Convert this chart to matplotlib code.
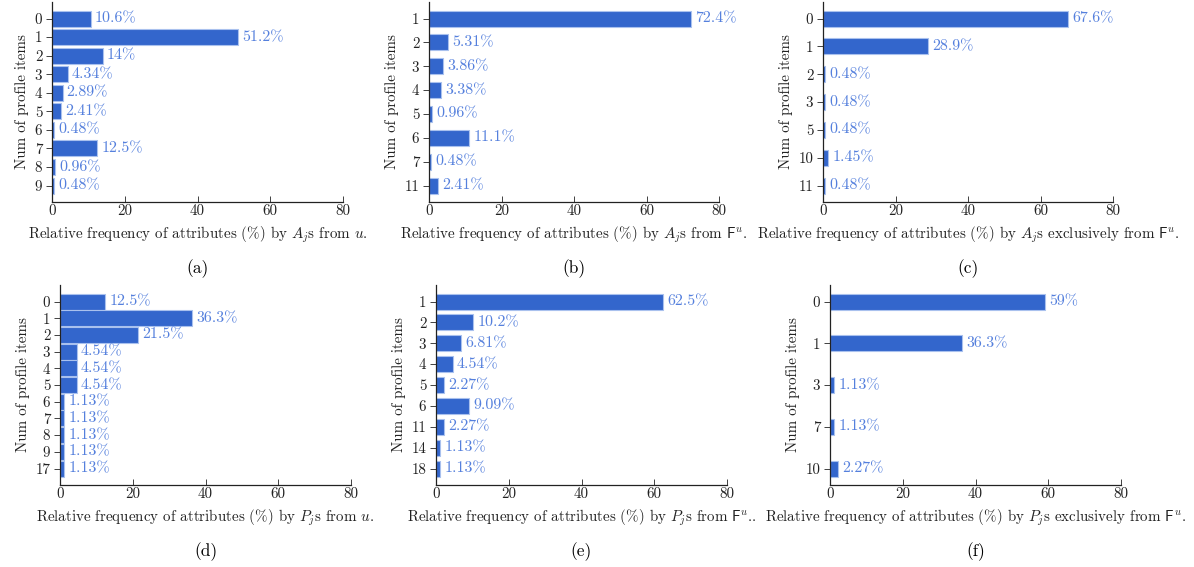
import numpy as np
import matplotlib
matplotlib.use("Agg")
import matplotlib.pyplot as plt

plt.rcParams['font.family'] = 'serif'
plt.rcParams['font.serif'] = ['cmr10', 'DejaVu Serif']
plt.rcParams['mathtext.fontset'] = 'cm'
plt.rcParams['axes.formatter.use_mathtext'] = True

# panel data: category labels (top to bottom) and relative frequency (%)
a_cats = ['0', '1', '2', '3', '4', '5', '6', '7', '8', '9']
a_vals = [10.6, 51.2, 14, 4.34, 2.89, 2.41, 0.48, 12.5, 0.96, 0.48]

b_cats = ['1', '2', '3', '4', '5', '6', '7', '11']
b_vals = [72.4, 5.31, 3.86, 3.38, 0.96, 11.1, 0.48, 2.41]

c_cats = ['0', '1', '2', '3', '5', '10', '11']
c_vals = [67.6, 28.9, 0.48, 0.48, 0.48, 1.45, 0.48]

d_cats = ['0', '1', '2', '3', '4', '5', '6', '7', '8', '9', '17']
d_vals = [12.5, 36.3, 21.5, 4.54, 4.54, 4.54, 1.13, 1.13, 1.13, 1.13, 1.13]

e_cats = ['1', '2', '3', '4', '5', '6', '11', '14', '18']
e_vals = [62.5, 10.2, 6.81, 4.54, 2.27, 9.09, 2.27, 1.13, 1.13]

f_cats = ['0', '1', '3', '7', '10']
f_vals = [59, 36.3, 1.13, 1.13, 2.27]

xlabels = [
    r'Relative frequency of attributes (%) by $A_j$s from $u$.',
    r'Relative frequency of attributes (%) by $A_j$s from $\mathsf{F}^u$.',
    r'Relative frequency of attributes (%) by $A_j$s exclusively from $\mathsf{F}^u$.',
    r'Relative frequency of attributes (%) by $P_j$s from $u$.',
    r'Relative frequency of attributes (%) by $P_j$s from $\mathsf{F}^u$..',
    r'Relative frequency of attributes (%) by $P_j$s exclusively from $\mathsf{F}^u$.',
]
captions = ['(a)', '(b)', '(c)', '(d)', '(e)', '(f)']
panels = [(a_cats, a_vals), (b_cats, b_vals), (c_cats, c_vals),
          (d_cats, d_vals), (e_cats, e_vals), (f_cats, f_vals)]

W, H = 1194, 567
fig = plt.figure(figsize=(W / 100, H / 100), dpi=100)

# axes boxes in pixels: left, top, width, height
boxes = [(52, 2, 291, 200), (429, 2, 290, 200), (823, 2, 290, 200),
         (60, 285, 291, 200), (436, 285, 291, 200), (830, 285, 291, 200)]

bar_color = '#3366cc'
edge_color = '#a9c1ee'
label_color = '#5580dd'
axis_color = '#222222'
pad_px = 16.5
bar_px = 16
fs = 10.8

for i, ((cats, vals), box) in enumerate(zip(panels, boxes)):
    left, top, w, h = box
    ax = fig.add_axes([left / W, 1 - (top + h) / H, w / W, h / H])
    n = len(cats)
    spacing = (h - 2 * pad_px) / (n - 1)
    ypos = np.arange(n)
    bars = ax.barh(ypos, vals, height=bar_px / spacing, color=bar_color,
                   edgecolor=edge_color, linewidth=0.8)
    ax.bar_label(bars, fmt='{:.3g}%', padding=3, color=label_color,
                 fontsize=11.5)
    ax.set_ylim(n - 1 + pad_px / spacing, -pad_px / spacing)
    ax.set_xlim(0, 80)
    ax.set_xticks([0, 20, 40, 60, 80])
    ax.set_xticklabels(['0', '20', '40', '60', '80'])
    ax.set_yticks(ypos)
    ax.set_yticklabels(cats)
    for s in ['top', 'right']:
        ax.spines[s].set_visible(False)
    for s in ['left', 'bottom']:
        ax.spines[s].set_color(axis_color)
        ax.spines[s].set_linewidth(0.9)
    ax.tick_params(axis='x', direction='in', length=4, width=0.6,
                   colors=axis_color, labelsize=fs, pad=2)
    ax.tick_params(axis='y', direction='out', length=4, width=0.6,
                   colors=axis_color, labelsize=fs, pad=3)
    ax.set_xlabel(xlabels[i], fontsize=fs, labelpad=4, color=axis_color)
    ax.set_ylabel('Num of profile items', fontsize=fs, color=axis_color,
                  labelpad=4)
    cx = (left + w / 2) / W
    cy = 1 - (top + h + 67) / H
    fig.text(cx, cy, captions[i], ha='center', va='center', fontsize=12.5)

fig.savefig('out.png', dpi=100)
